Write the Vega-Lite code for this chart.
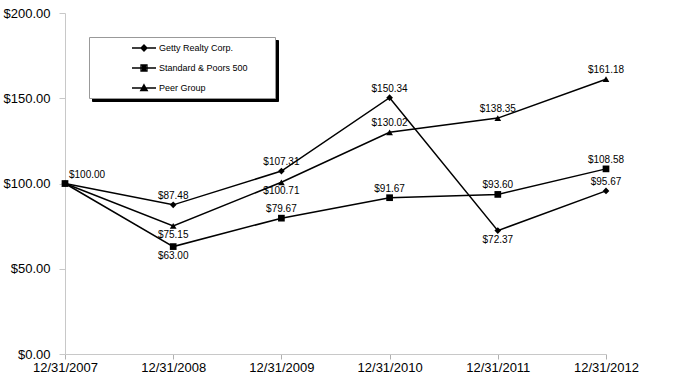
{
  "$schema": "https://vega.github.io/schema/vega-lite/v6.json",
  "autosize": {"type": "none"},
  "width": 541,
  "height": 341,
  "padding": {"left": 65, "top": 13, "right": 74, "bottom": 24},
  "background": "white",
  "config": {
    "view": {"stroke": null},
    "font": "Liberation Sans",
    "axis": {"labelFont": "Liberation Sans", "grid": false, "title": null, "labelColor": "#000", "labelFontSize": 13}
  },
  "data": {
    "values": [
      {"series": "Getty Realty Corp.", "date": "12/31/2007", "value": 100.00},
      {"series": "Getty Realty Corp.", "date": "12/31/2008", "value": 87.48},
      {"series": "Getty Realty Corp.", "date": "12/31/2009", "value": 107.31},
      {"series": "Getty Realty Corp.", "date": "12/31/2010", "value": 150.34},
      {"series": "Getty Realty Corp.", "date": "12/31/2011", "value": 72.37},
      {"series": "Getty Realty Corp.", "date": "12/31/2012", "value": 95.67},
      {"series": "Standard & Poors 500", "date": "12/31/2007", "value": 100.00},
      {"series": "Standard & Poors 500", "date": "12/31/2008", "value": 63.00},
      {"series": "Standard & Poors 500", "date": "12/31/2009", "value": 79.67},
      {"series": "Standard & Poors 500", "date": "12/31/2010", "value": 91.67},
      {"series": "Standard & Poors 500", "date": "12/31/2011", "value": 93.60},
      {"series": "Standard & Poors 500", "date": "12/31/2012", "value": 108.58},
      {"series": "Peer Group", "date": "12/31/2007", "value": 100.00},
      {"series": "Peer Group", "date": "12/31/2008", "value": 75.15},
      {"series": "Peer Group", "date": "12/31/2009", "value": 100.71},
      {"series": "Peer Group", "date": "12/31/2010", "value": 130.02},
      {"series": "Peer Group", "date": "12/31/2011", "value": 138.35},
      {"series": "Peer Group", "date": "12/31/2012", "value": 161.18}
    ]
  },
  "encoding": {
    "x": {
      "field": "date", "type": "ordinal",
      "scale": {"type": "point", "padding": 0},
      "axis": {"labelAngle": 0, "domainColor": "#c8c8c8", "tickColor": "#b0b0b0", "tickSize": 5, "labelPadding": 2, "labelFontSize": 13}
    },
    "y": {
      "field": "value", "type": "quantitative",
      "scale": {"domain": [0, 200], "nice": false},
      "axis": {"values": [0, 50, 100, 150, 200], "format": "$,.2f", "domainColor": "#c8c8c8", "tickColor": "#c8c8c8", "tickSize": 6, "labelPadding": 9}
    }
  },
  "layer": [
    {
      "mark": {"type": "line", "color": "#000", "strokeWidth": 1.5},
      "encoding": {"detail": {"field": "series"}}
    },
    {
      "mark": {"type": "point", "filled": true, "color": "#000", "opacity": 1, "size": 45},
      "encoding": {
        "shape": {"field": "series", "scale": {"domain": ["Getty Realty Corp.", "Standard & Poors 500", "Peer Group"], "range": ["diamond", "square", "triangle-up"]}, "legend": null}
      }
    },
    {
      "transform": [
        {"filter": "datum.date != '12/31/2007' && !((datum.series == 'Getty Realty Corp.' && datum.date == '12/31/2011') || (datum.series == 'Standard & Poors 500' && datum.date == '12/31/2008') || (datum.series == 'Peer Group' && (datum.date == '12/31/2008' || datum.date == '12/31/2009')))"}
      ],
      "mark": {"type": "text", "fontSize": 10, "color": "#000", "dy": -9, "baseline": "middle"},
      "encoding": {"text": {"field": "value", "type": "quantitative", "format": "$.2f"}}
    },
    {
      "transform": [
        {"filter": "(datum.series == 'Getty Realty Corp.' && datum.date == '12/31/2011') || (datum.series == 'Standard & Poors 500' && datum.date == '12/31/2008') || (datum.series == 'Peer Group' && (datum.date == '12/31/2008' || datum.date == '12/31/2009'))"}
      ],
      "mark": {"type": "text", "fontSize": 10, "color": "#000", "dy": 9, "baseline": "middle"},
      "encoding": {"text": {"field": "value", "type": "quantitative", "format": "$.2f"}}
    },
    {
      "transform": [
        {"filter": "datum.series == 'Getty Realty Corp.' && datum.date == '12/31/2007'"}
      ],
      "mark": {"type": "text", "fontSize": 10, "color": "#000", "dy": -9, "dx": 4, "align": "left", "baseline": "middle"},
      "encoding": {"text": {"field": "value", "type": "quantitative", "format": "$.2f"}}
    },
    {
      "mark": {"type": "point", "filled": true, "opacity": 0, "color": "#000"},
      "encoding": {
        "size": {
          "field": "series", "type": "nominal",
          "scale": {"domain": ["Getty Realty Corp.", "Standard & Poors 500", "Peer Group"], "range": [144, 144, 144]},
          "legend": {
            "title": null,
            "orient": "none",
            "legendX": 27,
            "legendY": 27,
            "padding": 4,
            "rowPadding": 7,
            "fillColor": "#000",
            "strokeColor": "#000",
            "symbolSize": 144,
            "symbolOffset": 156,
            "labelOffset": 8,
            "symbolOpacity": 0,
            "labelFontSize": 9,
            "labelFont": "Liberation Sans",
            "labelColor": "#000",
            "labelExpr": "''"
          }
        }
      }
    },
    {
      "mark": {"type": "point", "filled": false, "opacity": 0, "color": "#000"},
      "encoding": {
        "shape": {
          "field": "series",
          "scale": {
            "domain": ["Getty Realty Corp.", "Standard & Poors 500", "Peer Group"],
            "range": [
              "M-2,0L2,0M0,-0.5L0.5,0L0,0.5L-0.5,0ZM0,-0.25L0.25,0L0,0.25L-0.25,0Z",
              "M-2,0L2,0M-0.5,-0.5L0.5,-0.5L0.5,0.5L-0.5,0.5ZM-0.25,-0.25L0.25,-0.25L0.25,0.25L-0.25,0.25Z",
              "M-2,0L2,0M0,-0.55L0.55,0.45L-0.55,0.45ZM0,-0.2L0.25,0.25L-0.25,0.25Z"
            ]
          },
          "legend": {
            "title": null,
            "orient": "none",
            "legendX": 24,
            "legendY": 24,
            "padding": 4,
            "rowPadding": 7,
            "fillColor": "white",
            "strokeColor": "#999",
            "symbolSize": 144,
            "symbolOffset": 44,
            "labelOffset": 8,
            "symbolOpacity": 1,
            "symbolStrokeColor": "#000",
            "symbolStrokeWidth": 1.3,
            "labelFontSize": 9,
            "labelFont": "Liberation Sans",
            "labelColor": "#000",
            "labelExpr": "datum.label + '\u00a0\u00a0\u00a0\u00a0\u00a0\u00a0\u00a0\u00a0\u00a0\u200b'"
          }
        }
      }
    }
  ],
  "resolve": {"scale": {"shape": "independent", "size": "independent"}}
}
